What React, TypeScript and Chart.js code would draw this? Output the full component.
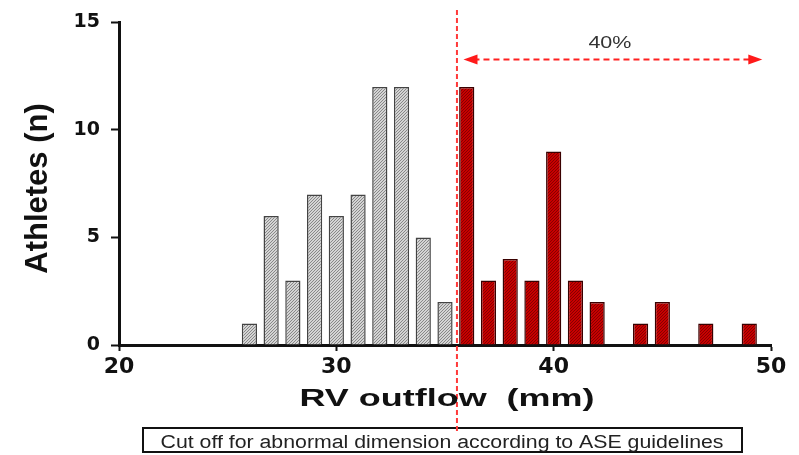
import React, { useEffect, useRef } from "react";
import { Chart, registerables } from "chart.js";

Chart.register(...registerables);

// ---- data ----
const normalSizes = [26, 27, 28, 29, 30, 31, 32, 33, 34, 35];
const normalCounts = [1, 6, 3, 7, 6, 7, 12, 12, 5, 2];
const enlargedSizes = [36, 37, 38, 39, 40, 41, 42, 44, 45, 47, 49];
const enlargedCounts = [12, 3, 4, 3, 9, 3, 2, 1, 2, 1, 1];
const xTickValues = [20, 30, 40, 50];
const yTickValues = [0, 5, 10, 15];
const CUTOFF = 35.55;
const ARROW_FROM = 35.85;
const ARROW_TO = 49.6;
const ARROW_Y = 13.27;
const ARROW_LABEL = "40%";
const X_TITLE = "RV outflow  (mm)";
const Y_TITLE = "Athletes (n)";
const NOTE = "Cut off for abnormal dimension according to ASE guidelines";

function hatch(bg: string, fg: string): CanvasPattern | string {
  const c = document.createElement("canvas");
  c.width = 3;
  c.height = 3;
  const g = c.getContext("2d");
  if (!g) return bg;
  g.fillStyle = bg;
  g.fillRect(0, 0, 3, 3);
  g.strokeStyle = fg;
  g.lineWidth = 1;
  g.beginPath();
  g.moveTo(0, 3);
  g.lineTo(3, 0);
  g.moveTo(-1, 1);
  g.lineTo(1, -1);
  g.moveTo(2, 4);
  g.lineTo(4, 2);
  g.stroke();
  return g.createPattern(c, "repeat") || bg;
}

function stretchedText(
  ctx: CanvasRenderingContext2D,
  text: string,
  cx: number,
  baseline: number,
  font: string,
  color: string,
  targetWidth: number
) {
  ctx.save();
  ctx.font = font;
  ctx.fillStyle = color;
  ctx.textAlign = "center";
  ctx.textBaseline = "alphabetic";
  const w = ctx.measureText(text).width;
  const sx = targetWidth / w;
  ctx.translate(cx, baseline);
  ctx.scale(sx, 1);
  ctx.fillText(text, 0, 0);
  ctx.restore();
}

const overlayPlugin = {
  id: "overlay",
  afterDraw(chart: any) {
    const ctx: CanvasRenderingContext2D = chart.ctx;
    const x = chart.scales.x;
    const y = chart.scales.y;
    ctx.save();

    // bottom note box
    ctx.fillStyle = "#ffffff";
    ctx.fillRect(143, 428, 599, 24);
    ctx.strokeStyle = "#111111";
    ctx.lineWidth = 2;
    ctx.strokeRect(143, 428, 599, 24);
    stretchedText(ctx, NOTE, 442, 448, "18px 'Liberation Sans', Arial, sans-serif", "#222222", 563);

    // cut-off dashed line
    const cx = x.getPixelForValue(CUTOFF);
    ctx.strokeStyle = "#ff3a3a";
    ctx.lineWidth = 2;
    ctx.setLineDash([5, 3]);
    ctx.beginPath();
    ctx.moveTo(cx, 10);
    ctx.lineTo(cx, 433);
    ctx.stroke();

    // double arrow
    const ax1 = x.getPixelForValue(ARROW_FROM);
    const ax2 = x.getPixelForValue(ARROW_TO);
    const ay = y.getPixelForValue(ARROW_Y);
    ctx.strokeStyle = "#ff2020";
    ctx.setLineDash([6, 4]);
    ctx.beginPath();
    ctx.moveTo(ax1 + 10, ay);
    ctx.lineTo(ax2 - 10, ay);
    ctx.stroke();
    ctx.setLineDash([]);
    ctx.fillStyle = "#ff1a1a";
    ctx.beginPath();
    ctx.moveTo(ax1, ay);
    ctx.lineTo(ax1 + 14, ay - 5);
    ctx.lineTo(ax1 + 14, ay + 5);
    ctx.closePath();
    ctx.fill();
    ctx.beginPath();
    ctx.moveTo(ax2, ay);
    ctx.lineTo(ax2 - 14, ay - 5);
    ctx.lineTo(ax2 - 14, ay + 5);
    ctx.closePath();
    ctx.fill();

    // arrow label
    stretchedText(ctx, ARROW_LABEL, (ax1 + ax2) / 2 - 3, ay - 12, "16px 'Liberation Sans', Arial, sans-serif", "#333333", 43);

    // x title
    const xc = (chart.chartArea.left + chart.chartArea.right) / 2;
    stretchedText(ctx, X_TITLE, xc + 2, 406, "bold 23px 'Liberation Sans', Arial, sans-serif", "#111111", 295);

    // y title
    ctx.save();
    ctx.translate(47, 188.5);
    ctx.rotate(-Math.PI / 2);
    ctx.font = "bold 31px 'Liberation Sans', Arial, sans-serif";
    ctx.fillStyle = "#111111";
    ctx.textAlign = "center";
    ctx.textBaseline = "alphabetic";
    ctx.fillText(Y_TITLE, 0, 0);
    ctx.restore();

    ctx.restore();
  },
};

export default function App() {
  const ref = useRef<HTMLCanvasElement | null>(null);

  useEffect(() => {
    if (!ref.current) return;
    const greyFill = hatch("#d4d4d4", "#888888");
    const redFill = hatch("#c80000", "#860000");
    const chart = new Chart(ref.current, {
      type: "bar",
      data: {
        datasets: [
          {
            label: "normal",
            data: normalSizes.map((v, i) => ({ x: v, y: normalCounts[i] })),
            backgroundColor: greyFill as any,
            borderColor: "#444444",
            borderWidth: 1.5,
            grouped: false,
            barPercentage: 0.7,
            categoryPercentage: 1,
          },
          {
            label: "enlarged",
            data: enlargedSizes.map((v, i) => ({ x: v, y: enlargedCounts[i] })),
            backgroundColor: redFill as any,
            borderColor: "#3a0000",
            borderWidth: 1.5,
            grouped: false,
            barPercentage: 0.7,
            categoryPercentage: 1,
          },
        ],
      },
      options: {
        responsive: false,
        animation: false,
        layout: { padding: { top: 19, right: 28, bottom: 0, left: 0 } },
        plugins: {
          legend: { display: false },
          tooltip: { enabled: false },
        },
        scales: {
          x: {
            type: "linear",
            min: 20,
            max: 50,
            offset: false,
            afterFit: (s: any) => {
              s.height = 110;
            },
            afterBuildTicks: (s: any) => {
              s.ticks = xTickValues.map((v) => ({ value: v }));
            },
            ticks: {
              color: "#111111",
              padding: 3,
              font: { family: "'DejaVu Sans', sans-serif", weight: "bold", size: 22 },
            },
            grid: {
              display: true,
              drawOnChartArea: false,
              drawTicks: true,
              tickLength: 6,
              tickWidth: 2,
              tickColor: "#111111",
              offset: false,
            },
            border: { display: true, color: "#111111", width: 3 },
          },
          y: {
            min: 0,
            max: 15,
            afterFit: (s: any) => {
              s.width = 119;
            },
            afterBuildTicks: (s: any) => {
              s.ticks = yTickValues.map((v) => ({ value: v }));
            },
            ticks: {
              color: "#111111",
              padding: 11,
              font: { family: "'DejaVu Sans', sans-serif", weight: "bold", size: 19 },
            },
            grid: {
              display: true,
              drawOnChartArea: false,
              drawTicks: true,
              tickLength: 8,
              tickWidth: 2,
              tickColor: "#111111",
            },
            border: { display: true, color: "#111111", width: 3 },
          },
        },
      },
      plugins: [overlayPlugin],
    });
    return () => chart.destroy();
  }, []);

  return (
    <div style={{ position: "absolute", left: 0, top: 0, width: 799, height: 455, background: "#ffffff" }}>
      <canvas ref={ref} width={799} height={455} />
    </div>
  );
}
